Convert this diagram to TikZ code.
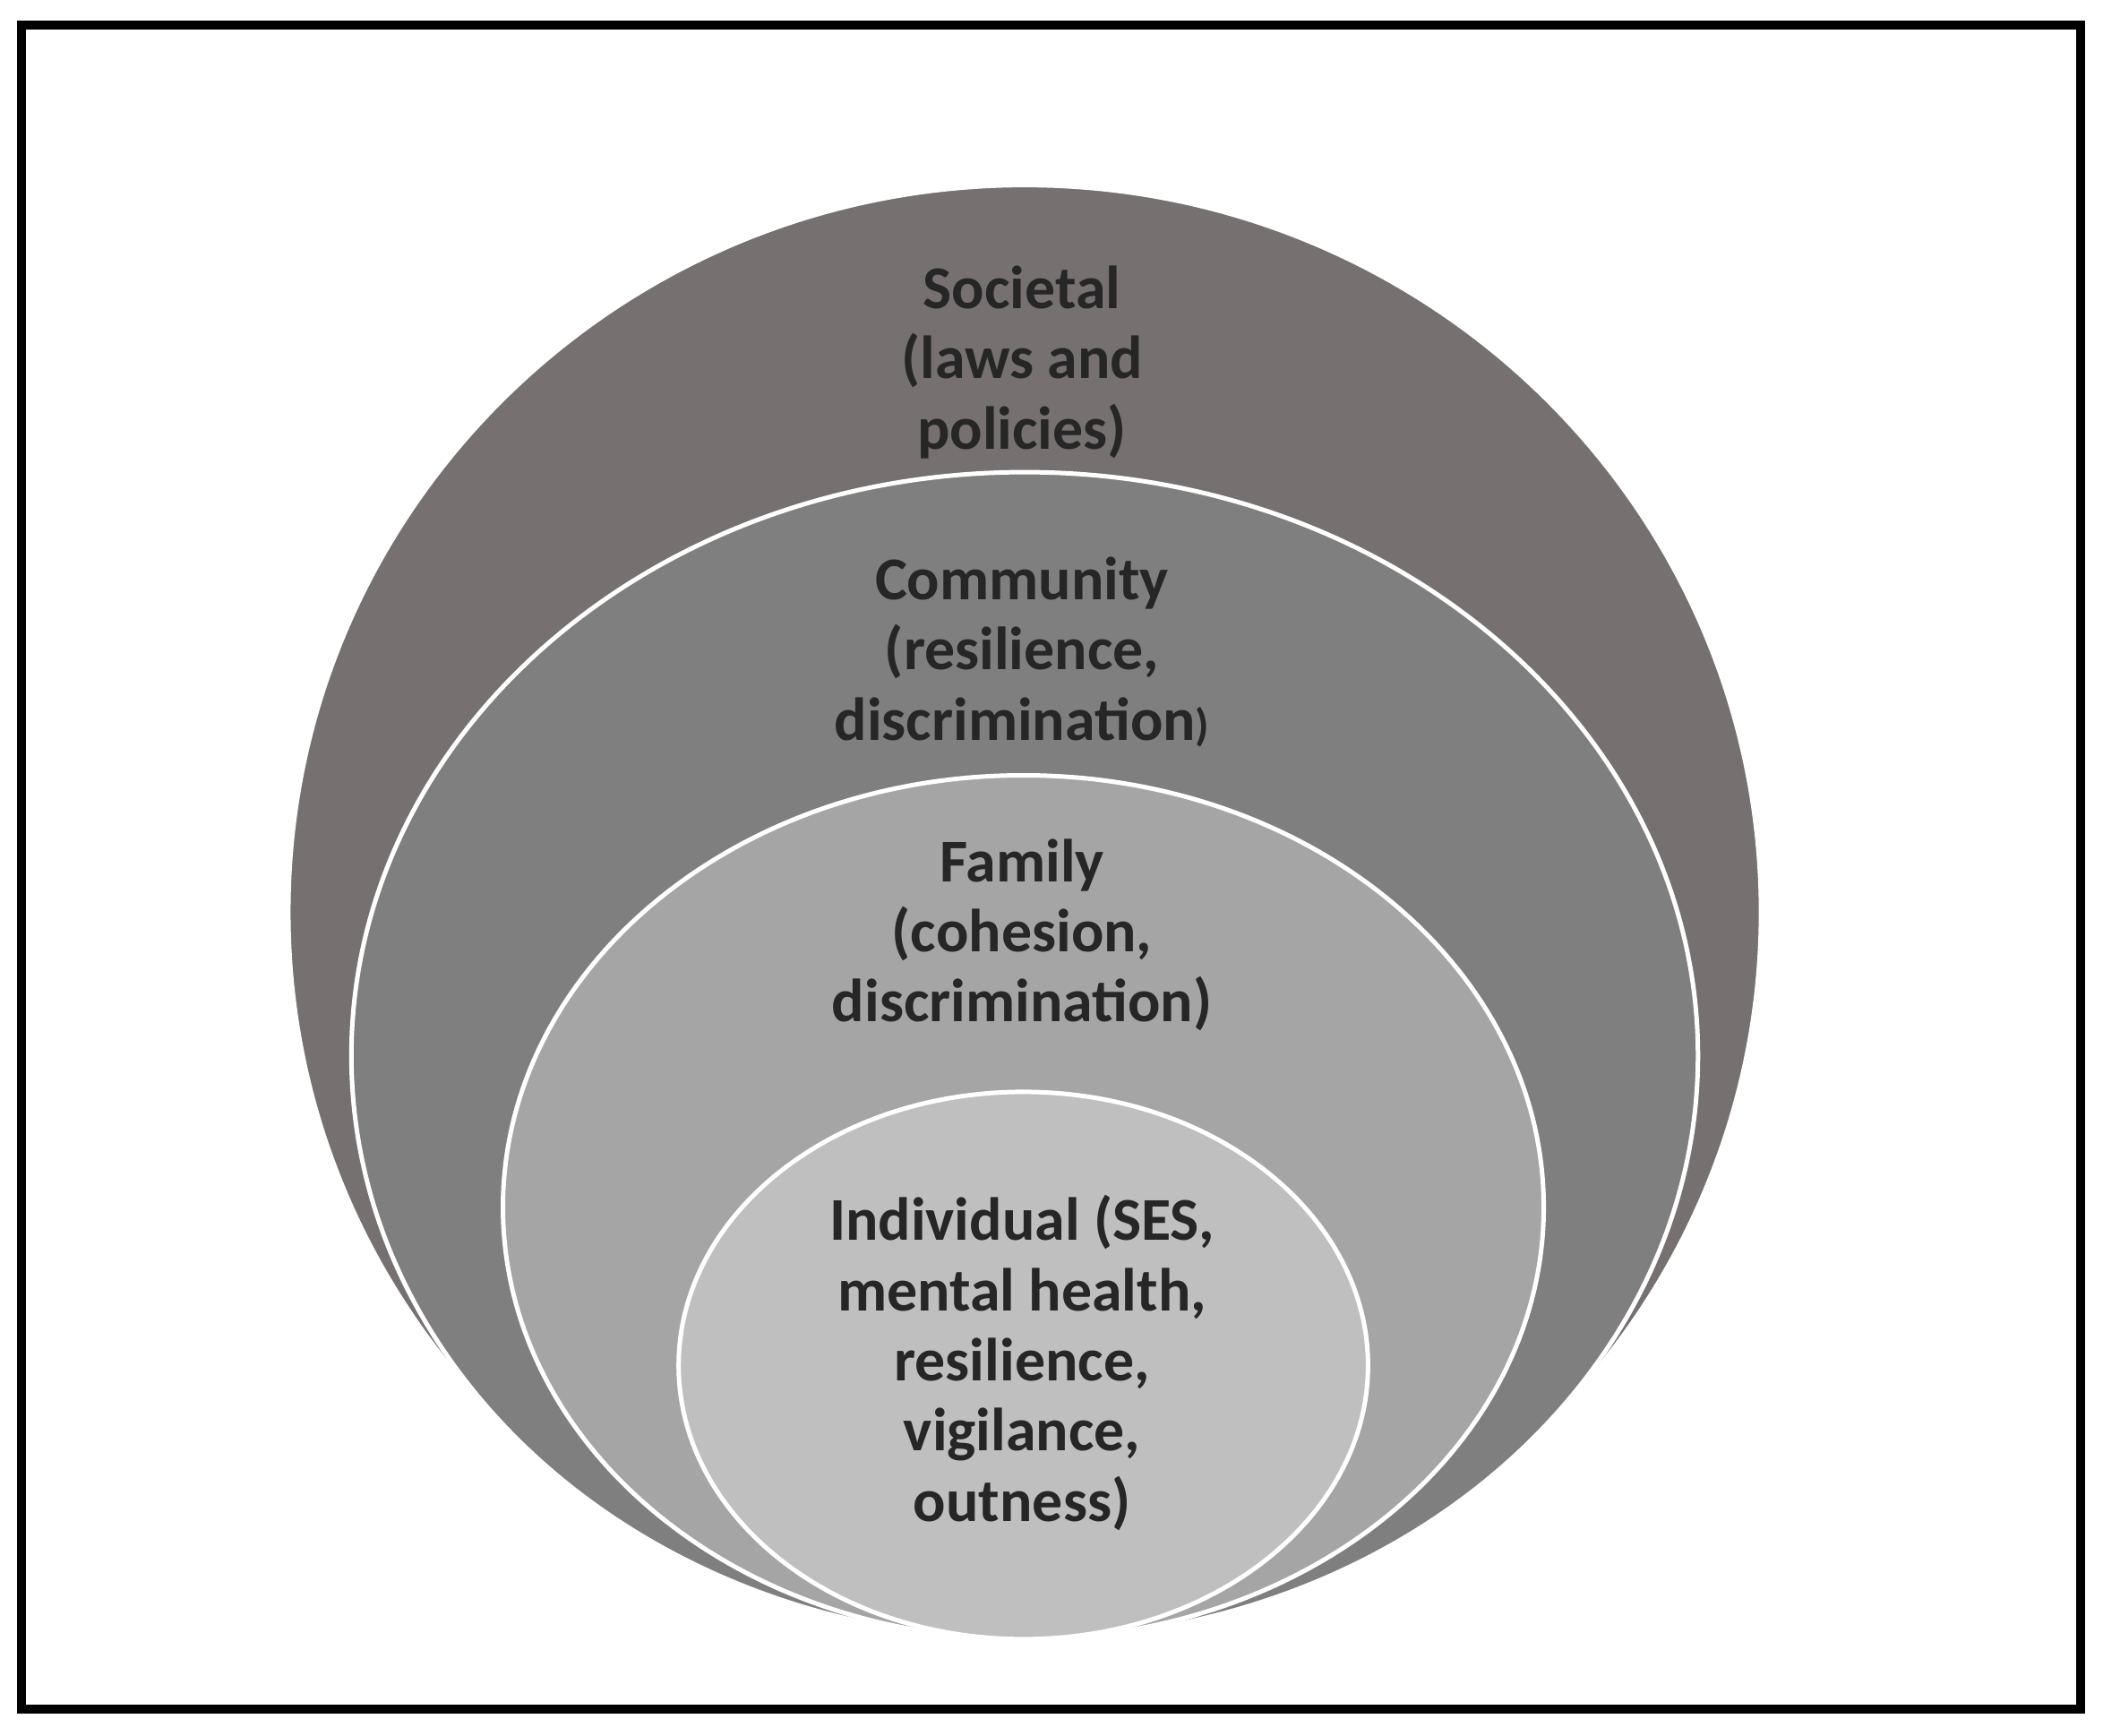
\documentclass[tikz,border=0pt]{standalone}
\usepackage{fontspec}
\setmainfont{Carlito}
\definecolor{societal}{HTML}{767170}
\definecolor{community}{HTML}{7F7F7F}
\definecolor{family}{HTML}{A5A5A5}
\definecolor{individual}{HTML}{BFBFBF}
\begin{document}
\begin{tikzpicture}[x=0.3pt, y=-0.3pt,
      level/.style={draw=white, line width=1pt},
      label/.style={align=center, font=\fontsize{13.6}{15.7}\selectfont\bfseries, text=black!85}]
      \useasboundingbox (0,0) rectangle (1568,1294);
      % frame
      \draw[line width=2pt] (16,19) rectangle (1551,1274);
      % levels
      \fill[level, fill=societal] (764,680) ellipse [x radius=549, y radius=542];
      \fill[level, fill=community] (764,787) ellipse [x radius=502, y radius=435];
      \fill[level, fill=family] (763,900) ellipse [x radius=388, y radius=322];
      \fill[level, fill=individual] (763,1018) ellipse [x radius=257, y radius=204];
      % labels
      \node[label] (soc) at (762,270) {Societal\\(laws and\\policies)};
      \node[label] (com) at (762,486) {Community\\(resilience,\\discrimination{\fontsize{10}{12}\selectfont)}};
      \node[label] (fam) at (762,697) {Family\\(cohesion,\\discrimination)};
      \node[label] (ind) at (762,1016) {Individual (SES,\\mental health,\\resilience,\\vigilance,\\outness)};
\end{tikzpicture}
\end{document}
